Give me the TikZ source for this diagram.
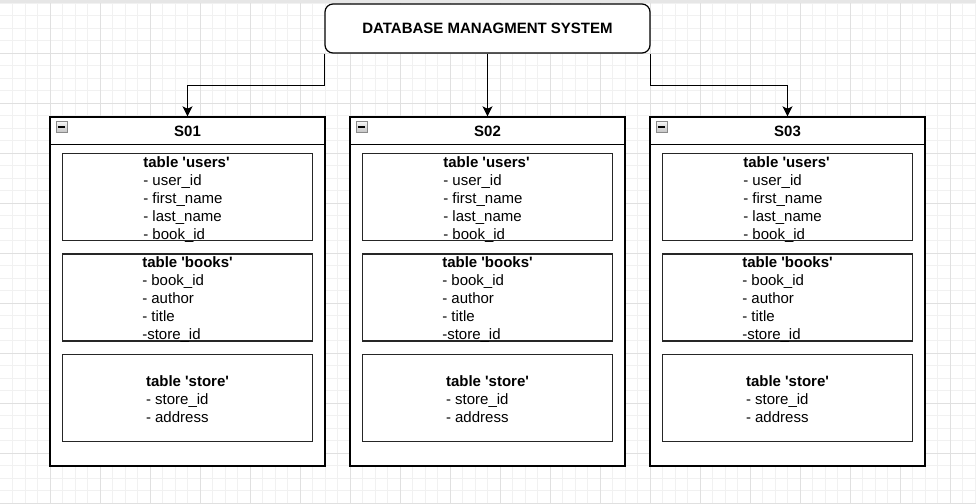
\documentclass[tikz,border=0pt]{standalone}
\usepackage{fontspec}
\setmainfont{Liberation Sans}
\usetikzlibrary{arrows.meta}
\definecolor{gridminor}{HTML}{F1F1F1}
\definecolor{gridmajor}{HTML}{E0E0E0}
\definecolor{topstrip}{HTML}{E6E6E6}
\definecolor{iconfill}{HTML}{C4C4C4}
\definecolor{iconline}{HTML}{8A8A8A}
\newcommand{\sq}{\textquotesingle}
\begin{document}
\begin{tikzpicture}[x=0.75pt,y=-0.75pt,
  basefont/.style={font=\fontsize{11.25pt}{13.5pt}\selectfont},
  boldfont/.style={font=\bfseries\fontsize{11.25pt}{13.5pt}\selectfont},
  dbbox/.style={draw=black, line width=0.9pt, rounded corners=6pt, fill=white,
    minimum width=243.75pt, minimum height=36.75pt, inner sep=0pt, boldfont},
  serverbox/.style={draw=black, line width=1pt, fill=white,
    minimum width=206.25pt, minimum height=261.75pt, inner sep=0pt},
  tablebox/.style={draw=black!85, line width=0.9pt, fill=white,
    minimum width=187.5pt, minimum height=65.25pt, inner sep=0pt},
  tabletext/.style={align=left, basefont, inner sep=0pt},
  hdr/.style={boldfont, inner sep=0pt},
  minusbox/.style={draw=iconline, line width=0.5pt, top color=white!85!iconfill, bottom color=iconfill,
    minimum width=8pt, minimum height=8pt, inner sep=0pt},
  conn/.style={draw=black, line width=0.9pt, -{Stealth[length=7.5pt,width=7.5pt,inset=1.8pt]}}
]
\useasboundingbox (0,0) rectangle (976,504);
% background grid
\fill[white] (0,0) rectangle (976,504);
\foreach \gx in {12.5,25,...,976} \draw[gridminor, line width=0.75pt] (\gx,0) -- (\gx,504);
\foreach \gy in {3.3,15.8,...,504} \draw[gridminor, line width=0.75pt] (0,\gy) -- (976,\gy);
\foreach \gx in {50,100,...,976} \draw[gridmajor, line width=0.75pt] (\gx,0) -- (\gx,504);
\foreach \gy in {53.3,103.3,...,504} \draw[gridmajor, line width=0.75pt] (0,\gy) -- (976,\gy);
\fill[topstrip] (0,0) rectangle (976,2.5);

% main box
\node[dbbox] (dbms) at (487.5,28.5) {DATABASE MANAGMENT SYSTEM};

% servers
\foreach \i/\lab in {0/S01,1/S02,2/S03}{
  \pgfmathsetmacro{\xo}{50+300*\i}
  \pgfmathsetmacro{\cx}{\xo+137.5}
  \node[serverbox] (s\i) at (\cx,291.5) {};
  \draw[black, line width=1pt] ([yshift=-21pt]s\i.north west) -- ([yshift=-21pt]s\i.north east);
  \node[hdr] (h\i) at (\cx,131) {\lab};
  \node[minusbox] (m\i) at (\xo+11.5,127) {};
  \draw[black, line width=0.9pt] ([xshift=1.6pt]m\i.west) -- ([xshift=-1.6pt]m\i.east);
  \node[tablebox] (u\i) at (\cx,197.2) {};
  \node[tablebox] (b\i) at (\cx,297.5) {};
  \node[tablebox] (t\i) at (\cx,397.7) {};
  \node[tabletext] (ut\i) at (\cx-1,199.2) {\textbf{table \sq users\sq}\\- user\_id\\- first\_name\\- last\_name\\- book\_id};
  \node[tabletext] (bt\i) at (\cx,299.5) {\textbf{table \sq books\sq}\\- book\_id\\- author\\- title\\-store\_id};
  \node[tabletext] (tt\i) at (\cx,399.5) {\textbf{table \sq store\sq}\\- store\_id\\- address};
}

% connectors
\draw[conn] (dbms.south west) -- ++(0,32) -| (s0.north);
\draw[conn] (dbms.south) -- (s1.north);
\draw[conn] (dbms.south east) -- ++(0,32) -| (s2.north);
\end{tikzpicture}
\end{document}
